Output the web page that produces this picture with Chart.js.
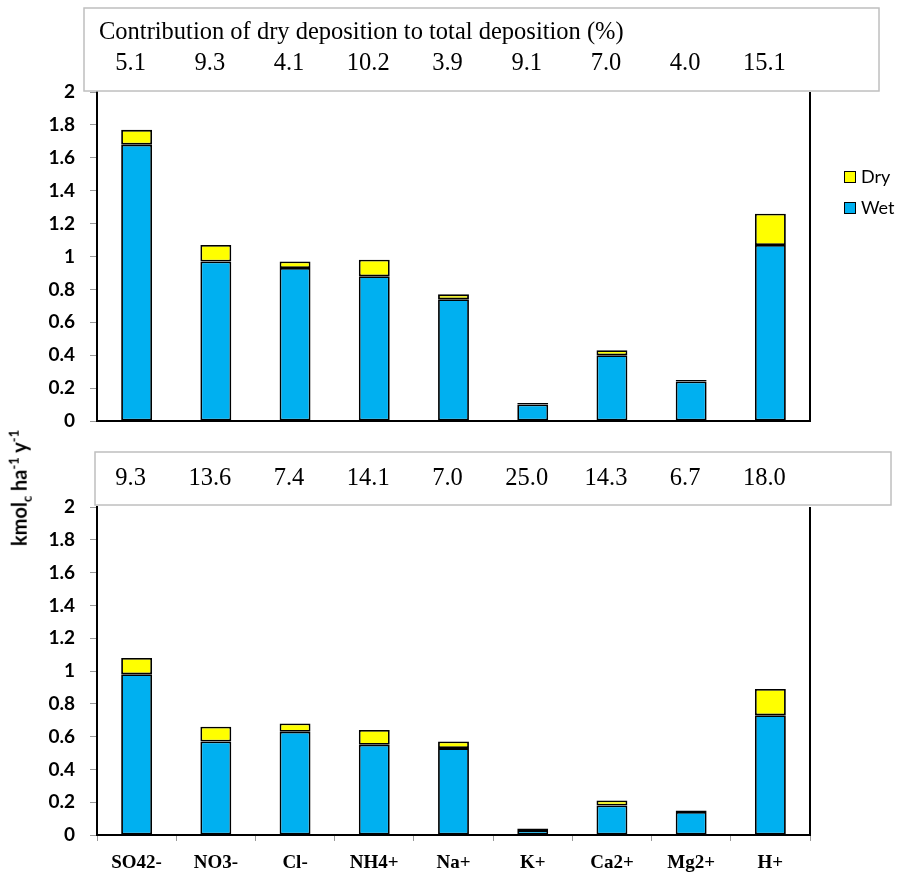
<!DOCTYPE html>
<html>
<head>
<meta charset="utf-8">
<script src="https://cdn.jsdelivr.net/npm/chart.js@4/dist/chart.umd.min.js"></script>
<style>
  html, body { margin: 0; padding: 0; background: #fff; }
  #wrap { position: relative; width: 904px; height: 881px; overflow: hidden; }
  canvas { position: absolute; left: 0; }
  #c1 { top: 0; }
  #c2 { top: 440px; }
  #ytitle {
    position: absolute; left: 20px; top: 488px;
    transform: translate(-50%, -50%) rotate(-90deg);
    font: bold 20px Lato, "Open Sans", sans-serif; white-space: nowrap; color: #000;
  }
  #ytitle sub, #ytitle sup { font-size: 13px; }
</style>
</head>
<body>
<div id="wrap">
  <canvas id="c1" width="904" height="450"></canvas>
  <canvas id="c2" width="904" height="441"></canvas>
  <div id="ytitle">kmol<sub>c</sub> ha<sup>-1</sup> y<sup>-1</sup></div>
</div>
<script>
// Ion species on the category axis
const categories = ['SO42-', 'NO3-', 'Cl-', 'NH4+', 'Na+', 'K+', 'Ca2+', 'Mg2+', 'H+'];

// Upper panel: wet and dry deposition (kmolc ha-1 y-1)
const wetUpper = [1.68, 0.97, 0.93, 0.88, 0.74, 0.10, 0.40, 0.24, 1.07];
const dryUpper = [0.09, 0.10, 0.04, 0.10, 0.03, 0.01, 0.03, 0.01, 0.19];
const dryShareUpper = ['5.1', '9.3', '4.1', '10.2', '3.9', '9.1', '7.0', '4.0', '15.1'];

// Lower panel: wet and dry deposition (kmolc ha-1 y-1)
const wetLower = [0.98, 0.57, 0.63, 0.55, 0.53, 0.03, 0.18, 0.14, 0.73];
const dryLower = [0.10, 0.09, 0.05, 0.09, 0.04, 0.01, 0.03, 0.01, 0.16];
const dryShareLower = ['9.3', '13.6', '7.4', '14.1', '7.0', '25.0', '14.3', '6.7', '18.0'];

const shareTitle = 'Contribution of dry deposition to total deposition (%)';
const WET = '#00B0F0', DRY = '#FFFF00';
const SERIF = '"Liberation Serif", "Times New Roman", serif';
const SANS = 'Lato, "Open Sans", sans-serif';

// Draws the right frame line, the percentage box and (optionally) the legend
function panelDecor(shares, box, title, legend) {
  return {
    id: 'panelDecor',
    afterDraw(chart) {
      const ctx = chart.ctx, a = chart.chartArea, xs = chart.scales.x;
      ctx.save();
      // right frame line
      ctx.strokeStyle = '#000';
      ctx.lineWidth = 2;
      ctx.beginPath();
      ctx.moveTo(a.right, a.top);
      ctx.lineTo(a.right, a.bottom + 1);
      ctx.stroke();
      // percentage box
      ctx.fillStyle = '#fff';
      ctx.fillRect(box.x, box.y, box.w, box.h);
      ctx.strokeStyle = '#bfbfbf';
      ctx.lineWidth = 1.5;
      ctx.strokeRect(box.x, box.y, box.w, box.h);
      ctx.fillStyle = '#000';
      ctx.font = '24.5px ' + SERIF;
      ctx.textBaseline = 'alphabetic';
      if (title) {
        ctx.textAlign = 'left';
        ctx.fillText(title, box.x + 15, box.y + 31);
      }
      ctx.textAlign = 'center';
      shares.forEach((s, i) => {
        ctx.fillText(s, xs.getPixelForValue(i) - 6, box.valueY);
      });
      // legend
      if (legend) {
        const items = [['Dry', DRY], ['Wet', WET]];
        ctx.font = '18px ' + SANS;
        ctx.textAlign = 'left';
        ctx.textBaseline = 'middle';
        items.forEach(([label, color], k) => {
          const y = 171 + k * 31;
          ctx.fillStyle = color;
          ctx.fillRect(844, y, 11, 11);
          ctx.strokeStyle = '#000';
          ctx.lineWidth = 1;
          ctx.strokeRect(844.5, y + 0.5, 11, 11);
          ctx.fillStyle = '#000';
          ctx.fillText(label, 861, y + 6);
        });
      }
      ctx.restore();
    }
  };
}

function makeChart(canvas, wet, dry, opts) {
  return new Chart(canvas, {
    type: 'bar',
    data: {
      labels: categories,
      datasets: [
        { label: 'Wet', data: wet, backgroundColor: WET },
        { label: 'Dry', data: dry, backgroundColor: DRY }
      ]
    },
    options: {
      responsive: false,
      animation: false,
      devicePixelRatio: 1,
      layout: { padding: { left: 0, right: 94, top: opts.top, bottom: 0 } },
      datasets: {
        bar: {
          borderColor: '#000', borderWidth: 1.8, borderSkipped: false,
          categoryPercentage: 1, barPercentage: 0.39
        }
      },
      plugins: { legend: { display: false }, tooltip: { enabled: false } },
      scales: {
        x: {
          stacked: true,
          afterFit: s => { s.height = opts.xHeight; },
          grid: {
            drawOnChartArea: false, offset: true,
            drawTicks: opts.showX, tickLength: 6, color: '#999'
          },
          border: { color: '#000', width: 2 },
          ticks: {
            display: opts.showX, color: '#000', padding: 11,
            maxRotation: 0, autoSkip: false,
            font: { family: SERIF, size: 19, weight: 'bold' }
          }
        },
        y: {
          stacked: true, min: 0, max: 2,
          afterFit: s => { s.width = 97; },
          grid: { drawOnChartArea: false, tickLength: 7, color: '#999' },
          border: { color: '#000', width: 2 },
          ticks: {
            stepSize: 0.2, color: '#000', padding: 15,
            font: { family: SANS, size: 19, weight: 'bold' },
            callback: v => String(Number(v.toFixed(1)))
          }
        }
      }
    },
    plugins: [panelDecor(opts.shares, opts.box, opts.title, opts.legend)]
  });
}

makeChart(document.getElementById('c1'), wetUpper, dryUpper, {
  top: 92, xHeight: 29, showX: false,
  shares: dryShareUpper, title: shareTitle, legend: true,
  box: { x: 84, y: 8, w: 795, h: 83, valueY: 70 }
});

makeChart(document.getElementById('c2'), wetLower, dryLower, {
  top: 67, xHeight: 46, showX: true,
  shares: dryShareLower, title: null, legend: false,
  box: { x: 95, y: 12, w: 796, h: 53, valueY: 45 }
});
</script>
</body>
</html>
